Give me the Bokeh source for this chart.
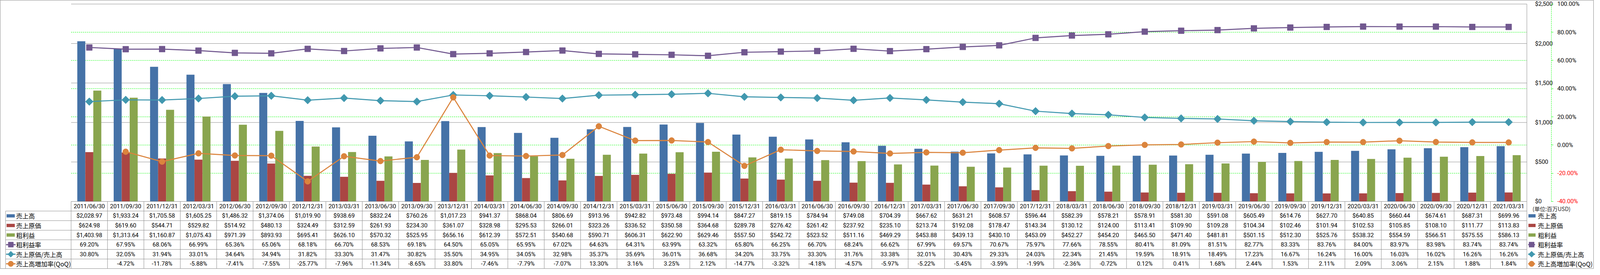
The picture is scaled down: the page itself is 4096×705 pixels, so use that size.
import math
import numpy as np
from bokeh.plotting import figure
from bokeh.models import Range1d, LinearAxis, FixedTicker, NumeralTickFormatter, PrintfTickFormatter
from bokeh.core.properties import value
from bokeh.embed import file_html
from bokeh.resources import INLINE

# ---------------- data ----------------
dates = ["2011/06/30", "2011/09/30", "2011/12/31", "2012/03/31", "2012/06/30", "2012/09/30",
         "2012/12/31", "2013/03/31", "2013/06/30", "2013/09/30", "2013/12/31", "2014/03/31",
         "2014/06/30", "2014/09/30", "2014/12/31", "2015/03/31", "2015/06/30", "2015/09/30",
         "2015/12/31", "2016/03/31", "2016/06/30", "2016/09/30", "2016/12/31", "2017/03/31",
         "2017/06/30", "2017/09/30", "2017/12/31", "2018/03/31", "2018/06/30", "2018/09/30",
         "2018/12/31", "2019/03/31", "2019/06/30", "2019/09/30", "2019/12/31", "2020/03/31",
         "2020/06/30", "2020/09/30", "2020/12/31", "2021/03/31"]
sales = [2028.97, 1933.24, 1705.58, 1605.25, 1486.32, 1374.06, 1019.90, 938.69, 832.24, 760.26,
         1017.23, 941.37, 868.04, 806.69, 913.96, 942.82, 973.48, 994.14, 847.27, 819.15,
         784.94, 749.08, 704.39, 667.62, 631.21, 608.57, 596.44, 582.39, 578.21, 578.91,
         581.30, 591.08, 605.49, 614.76, 627.70, 640.85, 660.44, 674.61, 687.31, 699.96]
cost = [624.98, 619.60, 544.71, 529.82, 514.92, 480.13, 324.49, 312.59, 261.93, 234.30,
        361.07, 328.98, 295.53, 266.01, 323.26, 336.52, 350.58, 364.68, 289.78, 276.42,
        261.42, 237.92, 235.10, 213.74, 192.08, 178.47, 143.34, 130.12, 124.00, 113.41,
        109.90, 109.28, 104.34, 102.46, 101.94, 102.53, 105.85, 108.10, 111.77, 113.83]
gross = [1403.98, 1313.64, 1160.87, 1075.43, 971.39, 893.93, 695.41, 626.10, 570.32, 525.95,
         656.16, 612.39, 572.51, 540.68, 590.71, 606.31, 622.90, 629.46, 557.50, 542.72,
         523.52, 511.16, 469.29, 453.88, 439.13, 430.10, 453.09, 452.27, 454.20, 465.50,
         471.40, 481.81, 501.15, 512.30, 525.76, 538.32, 554.59, 566.51, 575.55, 586.13]
margin = [69.20, 67.95, 68.06, 66.99, 65.36, 65.06, 68.18, 66.70, 68.53, 69.18,
          64.50, 65.05, 65.95, 67.02, 64.63, 64.31, 63.99, 63.32, 65.80, 66.25,
          66.70, 68.24, 66.62, 67.99, 69.57, 70.67, 75.97, 77.66, 78.55, 80.41,
          81.09, 81.51, 82.77, 83.33, 83.76, 84.00, 83.97, 83.98, 83.74, 83.74]
cost_ratio = [30.80, 32.05, 31.94, 33.01, 34.64, 34.94, 31.82, 33.30, 31.47, 30.82,
              35.50, 34.95, 34.05, 32.98, 35.37, 35.69, 36.01, 36.68, 34.20, 33.75,
              33.30, 31.76, 33.38, 32.01, 30.43, 29.33, 24.03, 22.34, 21.45, 19.59,
              18.91, 18.49, 17.23, 16.67, 16.24, 16.00, 16.03, 16.02, 16.26, 16.26]
qoq = [float("nan"), -4.72, -11.78, -5.88, -7.41, -7.55, -25.77, -7.96, -11.34, -8.65,
       33.80, -7.46, -7.79, -7.07, 13.30, 3.16, 3.25, 2.12, -14.77, -3.32,
       -4.18, -4.57, -5.97, -5.22, -5.45, -3.59, -1.99, -2.36, -0.72, 0.12,
       0.41, 1.68, 2.44, 1.53, 2.11, 2.09, 3.06, 2.15, 1.88, 1.84]

dollar_ticks = [0, 500, 1000, 1500, 2000, 2500]
pct_ticks = [-40, -20, 0, 20, 40, 60, 80, 100]
pct_grid = [-20, 0, 20, 40, 60, 80]
row_names = ["売上高", "売上原価", "粗利益", "粗利益率", "売上原価/売上高", "売上高増加率(QoQ)"]
unit_label = "(単位:百万USD)"

C_SALES, C_COST, C_GROSS = "#4572A7", "#AA4643", "#89A54E"
C_MARGIN, C_RATIO, C_QOQ = "#71588F", "#4198AF", "#DB843D"
GRAY = "#8c8c8c"
LIME = "#00FF00"

# ---------------- layout (reference px -> figure px) ----------------
W, H = 4080, 689
SX, SY = W / 6226.0, H / 1071.0
N = len(dates)
X0 = 277 * SX
CW = (5964 - 277) * SX / N
PB = 802 * SY                       # plot bottom (px)
PT = 15.3 * SY                      # plot top (px)
RH = (1069.7 - 802) * SY / 7        # table row height (px)

def xd(ref):
    return (ref * SX - X0) / CW

def yt(ref):
    return (ref * SY - PB) / RH

kd = (PB - PT) / 2500.0
kp = (PB - PT) / 140.0

p = figure(width=W, height=H, output_backend="svg", toolbar_location=None,
           x_axis_location=None, y_axis_location=None, title=None, min_border=0,
           x_range=Range1d(-X0 / CW, (W - X0) / CW),
           y_range=Range1d((PB - H) / kd, PB / kd),
           outline_line_color=GRAY, outline_line_width=1,
           background_fill_color="white", border_fill_color="white")
p.extra_y_ranges = {
    "pct": Range1d(-40 + (PB - H) / kp, -40 + PB / kp),
    "tbl": Range1d(start=(H - PB) / RH, end=-PB / RH),
}
p.grid.visible = False

idx = np.arange(N) + 0.5

# ---------------- gridlines ----------------
p.segment(x0=0, x1=N, y0=dollar_ticks[1:], y1=dollar_ticks[1:], line_color=GRAY, line_width=1)
p.segment(x0=0, x1=N, y0=pct_grid, y1=pct_grid, y_range_name="pct",
          line_color=LIME, line_width=1, line_dash="3 2")

# ---------------- bars ----------------
BW = 0.22
p.vbar(x=idx - BW, top=sales, bottom=0, width=BW, fill_color=C_SALES, line_color=None)
p.vbar(x=idx, top=cost, bottom=0, width=BW, fill_color=C_COST, line_color=None)
p.vbar(x=idx + BW, top=gross, bottom=0, width=BW, fill_color=C_GROSS, line_color=None)

# ---------------- lines ----------------
p.line(idx, margin, y_range_name="pct", line_color=C_MARGIN, line_width=2.7)
p.scatter(idx, margin, y_range_name="pct", marker="square", size=15,
          fill_color=C_MARGIN, line_color=C_MARGIN)
p.line(idx, cost_ratio, y_range_name="pct", line_color=C_RATIO, line_width=2.7)
p.scatter(idx, cost_ratio, y_range_name="pct", marker="square", angle=math.pi / 4, size=14,
          fill_color=C_RATIO, line_color=C_RATIO)
p.line(idx, qoq, y_range_name="pct", line_color=C_QOQ, line_width=2.7)
p.scatter(idx, qoq, y_range_name="pct", marker="circle", size=15,
          fill_color=C_QOQ, line_color=C_QOQ)

# ---------------- table ----------------
xl = xd(21)
# horizontal lines
p.segment(x0=0, x1=N, y0=0, y1=0, y_range_name="tbl", line_color=GRAY, line_width=1)
rows = list(range(1, 8))
p.segment(x0=xl, x1=N, y0=rows, y1=rows, y_range_name="tbl", line_color=GRAY, line_width=1)
# vertical lines
p.segment(x0=xl, x1=xl, y0=1, y1=7, y_range_name="tbl", line_color=GRAY, line_width=1)
cols = list(range(0, N))
p.segment(x0=cols, x1=cols, y0=0, y1=7, y_range_name="tbl", line_color=GRAY, line_width=1)
p.segment(x0=N, x1=N, y0=yt(15.3), y1=7, y_range_name="tbl", line_color=GRAY, line_width=1)

NUM_FONT = value("Roboto")
CJK_FONT = value("Noto Sans CJK JP")

def money(v):
    return "${:,.2f}".format(v)

def pct(v):
    return "" if (v is None or math.isnan(v)) else "{:.2f}%".format(v)

table_rows = [
    [money(v) for v in sales],
    [money(v) for v in cost],
    [money(v) for v in gross],
    [pct(v) for v in margin],
    [pct(v) for v in cost_ratio],
    [pct(v) for v in qoq],
]

p.text(x=idx, y=[0.5] * N, text=dates, y_range_name="tbl", text_font=NUM_FONT,
       text_font_size="15px", text_align="center", text_baseline="middle", text_color="black")
for r, texts in enumerate(table_rows):
    p.text(x=idx, y=[r + 1.5] * N, text=texts, y_range_name="tbl", text_font=NUM_FONT,
           text_font_size="15px", text_align="center", text_baseline="middle", text_color="black")

# row headers + right legend
series_icons = [("bar", C_SALES, None), ("bar", C_COST, None), ("bar", C_GROSS, None),
                ("line", C_MARGIN, "square"), ("line", C_RATIO, "diamond"), ("line", C_QOQ, "circle")]

def draw_icon(kind, color, marker, xa, xb, yc):
    if kind == "bar":
        p.rect(x=[(xa + xb) / 2], y=[yc], width=[xb - xa], height=8.4, height_units="screen",
               y_range_name="tbl", fill_color=color, line_color=None)
    else:
        p.segment(x0=xa, x1=xb, y0=yc, y1=yc, y_range_name="tbl", line_color=color, line_width=3)
        xc = (xa + xb) / 2
        if marker == "square":
            p.scatter([xc], [yc], y_range_name="tbl", marker="square", size=13,
                      fill_color=color, line_color=color)
        elif marker == "diamond":
            p.scatter([xc], [yc], y_range_name="tbl", marker="square", angle=math.pi / 4, size=11,
                      fill_color=color, line_color=color)
        else:
            p.scatter([xc], [yc], y_range_name="tbl", marker="circle", size=14,
                      fill_color=color, line_color=color)

for r, (kind, color, marker) in enumerate(series_icons):
    yc = r + 1.5
    if kind == "bar":
        draw_icon(kind, color, marker, xd(25), xd(57), yc)
        draw_icon(kind, color, marker, xd(5970), xd(5998), yc)
    else:
        draw_icon(kind, color, marker, xd(23), xd(60), yc)
        draw_icon(kind, color, marker, xd(5969), xd(5996), yc)

p.text(x=[xd(62)] * 6, y=[r + 1.5 for r in range(6)], text=row_names, y_range_name="tbl",
       text_font=CJK_FONT, text_font_size="16px", text_align="left", text_baseline="middle",
       text_color="black")
p.text(x=[xd(6007)] * 6, y=[r + 1.5 for r in range(6)], text=row_names, y_range_name="tbl",
       text_font=CJK_FONT, text_font_size="16px", text_align="left", text_baseline="middle",
       text_color="black")
p.text(x=[xd(5986)], y=[yt(831)], text=[unit_label], y_range_name="tbl",
       text_font=CJK_FONT, text_font_size="14px", text_align="left", text_baseline="middle",
       text_color="#222222")

# ---------------- right axes ----------------
ax_d = LinearAxis(fixed_location=float(N), ticker=FixedTicker(ticks=dollar_ticks),
                  formatter=NumeralTickFormatter(format="$0,0"))
ax_d.axis_line_color = None
ax_d.major_tick_line_color = None
ax_d.minor_tick_line_color = None
ax_d.major_label_standoff = 15
ax_d.major_label_text_font = "Roboto"
ax_d.major_label_text_font_size = "15px"
ax_d.major_label_text_color = "black"
p.add_layout(ax_d, "right")

ax_p = LinearAxis(y_range_name="pct", fixed_location=xd(6060), ticker=FixedTicker(ticks=pct_ticks),
                  formatter=PrintfTickFormatter(format="%.2f%%"), bounds=(-40, 100))
ax_p.axis_line_color = LIME
ax_p.axis_line_dash = "3 2"
ax_p.axis_line_width = 1
ax_p.major_tick_line_color = LIME
ax_p.major_tick_out = 5
ax_p.major_tick_in = 0
ax_p.minor_tick_line_color = None
ax_p.major_label_standoff = 10
ax_p.major_label_text_font = "Roboto"
ax_p.major_label_text_font_size = "15px"
ax_p.major_label_text_color = "black"
neg_ticks = [t for t in pct_ticks if t < 0]
ax_p.major_label_overrides = {t: "" for t in neg_ticks}
p.add_layout(ax_p, "right")

p.text(x=[xd(6083)] * len(neg_ticks), y=neg_ticks, text=["{:.2f}%".format(t) for t in neg_ticks],
       y_range_name="pct", text_font=NUM_FONT, text_font_size="15px", text_align="left",
       text_baseline="middle", text_color="red")

open("out.html", "w").write(file_html(p, INLINE))
